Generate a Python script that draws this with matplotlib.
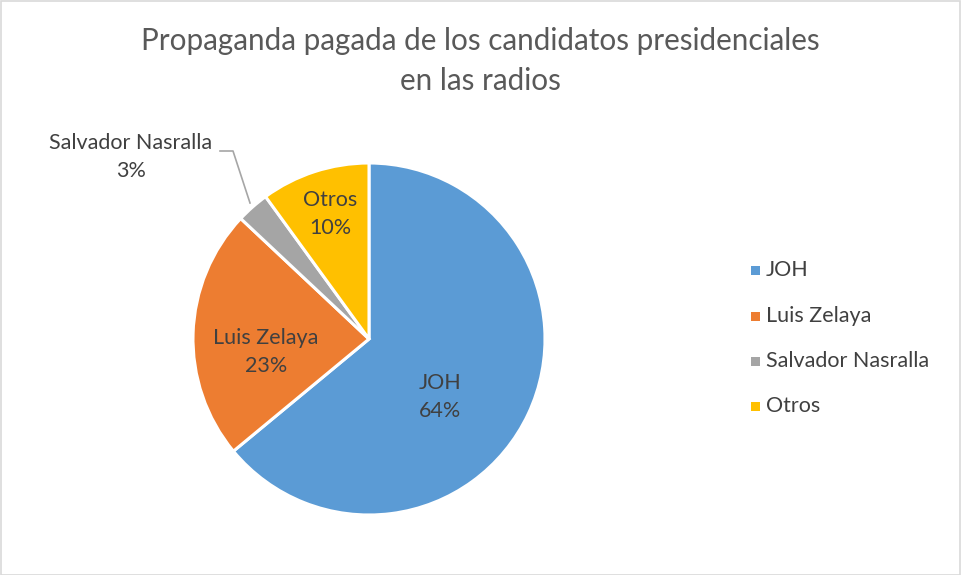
import matplotlib
matplotlib.use("Agg")
import matplotlib.pyplot as plt
from matplotlib.patches import Rectangle

categories = ["JOH", "Luis Zelaya", "Salvador Nasralla", "Otros"]
values = [64, 23, 3, 10]
colors = ["#5B9BD5", "#ED7D31", "#A5A5A5", "#FFC000"]
title = "Propaganda pagada de los candidatos presidenciales\nen las radios"

plt.rcParams['font.family'] = ['Lato', 'DejaVu Sans']

W, H = 961, 575
fig = plt.figure(figsize=(W / 100, H / 100), dpi=100)

# border
fig.patches.append(Rectangle((0.5 / W, 0.5 / H), 1 - 1.5 / W, 1 - 1.0 / H, transform=fig.transFigure,
                             fill=False, edgecolor="#D9D9D9", linewidth=1.2))

cx, cy, r = 369, 339, 176
ax = fig.add_axes([(cx - r) / W, (H - cy - r) / H, 2 * r / W, 2 * r / H])
wedges, _ = ax.pie(values, colors=colors, startangle=90, counterclock=False,
                   radius=1.0, wedgeprops=dict(edgecolor="white", linewidth=2.2))
ax.set_xlim(-1, 1)
ax.set_ylim(-1, 1)
ax.set_aspect("equal")
ax.axis("off")

label_col = "#404040"
fs = 15.5

def px2data(x, y):
    return ((x - cx) / r, (cy - y) / r)

label_pos = [(440, 397), (266, 352), None, (330, 214)]
for i, (cat, v) in enumerate(zip(categories, values)):
    if label_pos[i] is None:
        continue
    x, y = px2data(*label_pos[i])
    ax.text(x, y, f"{cat}\n{v}%", ha="center", va="center", fontsize=fs,
            color=label_col, linespacing=1.5)

# outside label for Nasralla
x, y = px2data(131, 157)
ax.text(x, y, f"{categories[2]}\n{values[2]}%", ha="center", va="center", fontsize=fs,
        color=label_col, linespacing=1.5, clip_on=False)
lx = [px2data(220, 151)[0], px2data(233, 151)[0], px2data(250, 203)[0]]
ly = [px2data(220, 151)[1], px2data(233, 151)[1], px2data(250, 203)[1]]
ax.plot(lx, ly, color="#A6A6A6", linewidth=1.2, clip_on=False)

fig.text(480 / W, 1 - 61 / H, title, ha="center", va="center", fontsize=21.3,
         color="#595959", linespacing=1.5)

# legend
ys = [270, 316, 361, 406]
for cat, col, yy in zip(categories, colors, ys):
    fig.patches.append(Rectangle(((751) / W, (H - yy - 4.5) / H), 9 / W, 9 / H,
                                 transform=fig.transFigure, facecolor=col, edgecolor="none"))
    fig.text(766 / W, 1 - yy / H, cat, ha="left", va="center", fontsize=fs, color=label_col)

fig.savefig("out.png", dpi=100)
